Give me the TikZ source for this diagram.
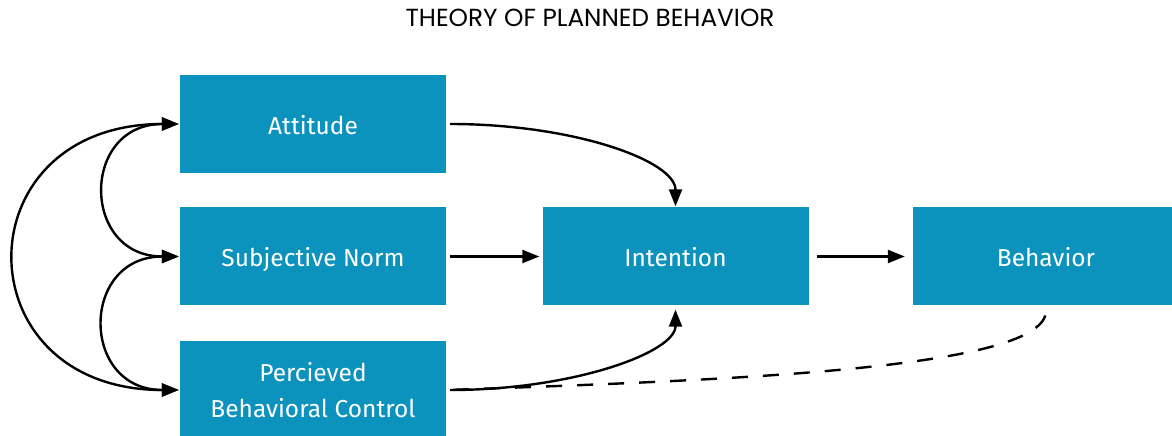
\documentclass[tikz,border=0pt]{standalone}
\usepackage{fontspec}
\setmainfont{Fira Sans}
\newfontfamily\titlefont{Poppins}
\usetikzlibrary{arrows.meta}
\definecolor{tpbblue}{RGB}{11,146,189}

\begin{document}
\begin{tikzpicture}[x=1pt,y=1pt,>={Triangle[length=17pt,width=13pt]},
	line width=2.4pt,
	box/.style={fill=tpbblue,text=white,minimum width=266pt,minimum height=98pt,
		align=center,inner sep=0pt,text height=21pt,text depth=0pt,
		font=\fontsize{24.5}{36}\selectfont}]
\useasboundingbox (0,0) rectangle (1172,436);
\clip (0,0) rectangle (1172,436);

\node[font=\titlefont\fontsize{24.7}{26}\selectfont] (title) at (590,418) {THEORY OF PLANNED BEHAVIOR};

\node[box] (att) at (313,312) {Attitude};
\node[box] (sn) at (313,179.5) {Subjective Norm};
\node[box,text height=55.5pt] (pbc) at (313,46) {Percieved\\Behavioral Control};
\node[box] (int) at (675.5,179.5) {Intention};
\node[box] (beh) at (1046,179.5) {Behavior};

% left side arcs
\draw[<->] (att.west) to[out=180,in=180,looseness=1.9] (sn.west);
\draw[<->] (sn.west) to[out=180,in=180,looseness=1.9] (pbc.west);
\draw[<->] (att.west) to[out=180,in=180,looseness=2.1] (pbc.west);

% towards intention
\draw[->,shorten <=3pt] (att.east) to[out=0,in=90,out looseness=1.33,in looseness=0.48] (int.north);
\draw[->,shorten <=3pt,shorten >=2pt] (sn.east) -- (int.west);
\draw[->,shorten <=3pt,shorten >=3pt] (pbc.east) to[out=0,in=-90,out looseness=1.33,in looseness=0.48] (int.south);
\draw[->,shorten <=7pt,shorten >=7pt] (int.east) -- (beh.west);

% feedback
\draw[dash pattern=on 16pt off 15pt,shorten <=6pt,shorten >=4pt] (pbc.east) to[out=2,in=-90,out looseness=1.26,in looseness=0.26] (beh.south);
\end{tikzpicture}
\end{document}
